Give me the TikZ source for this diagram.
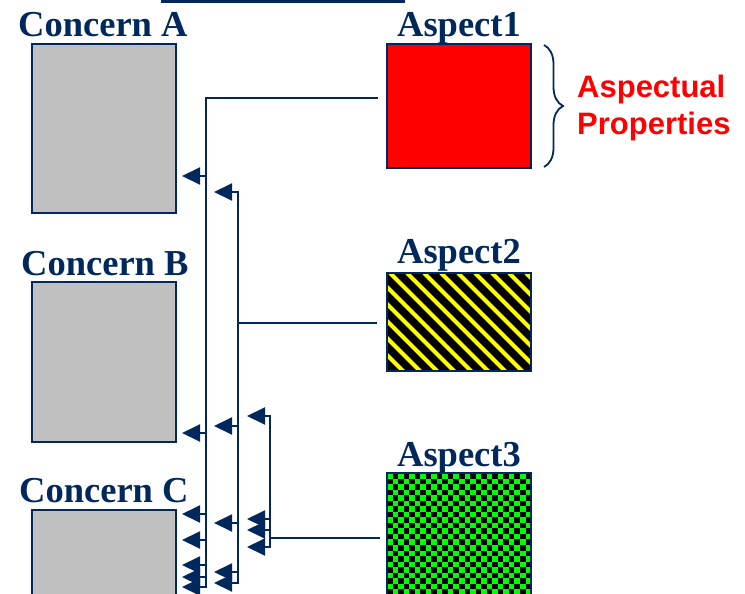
\documentclass[tikz,border=0pt]{standalone}
\usepackage{fontspec}
\setmainfont{Liberation Serif}
\newfontfamily\arialfont{Liberation Sans}
\usetikzlibrary{arrows.meta,decorations.pathreplacing}
\definecolor{navy}{RGB}{0,40,92}
\definecolor{concgray}{RGB}{192,192,192}
\definecolor{chkgreen}{RGB}{0,255,0}
\definecolor{stripey}{RGB}{255,255,0}
\tikzset{
  concbox/.style={draw=navy, line width=1.6pt, fill=concgray, anchor=north west, minimum width=144pt, inner sep=0pt, outer sep=0pt},
  aspbox/.style={draw=navy, line width=1.6pt, anchor=north west, minimum width=144pt, inner sep=0pt, outer sep=0pt},
  title/.style={font=\bfseries\fontsize{36.5}{40}\selectfont, text=navy, inner sep=0pt},
  conn/.style={draw=navy, line width=1.9pt},
  tip/.tip={Triangle[length=18pt,width=17pt]},
  arr/.style={conn, -tip},
  arrboth/.style={conn, tip-tip},
}
\begin{document}
\begin{tikzpicture}[x=1pt,y=-1pt]
\useasboundingbox (0,0) rectangle (745,594);
\clip (0,0) rectangle (745,594);
% top bar
\fill[navy] (161,0) rectangle (405,3);
% titles
\node[title, anchor=base west] (tA) at (18,37) {Concern A};
\node[title, anchor=base west] (tB) at (21,275) {Concern B};
\node[title, anchor=base west] (tC) at (19,502) {Concern C};
\node[title, anchor=base] (t1) at (459,37) {Aspect1};
\node[title, anchor=base] (t2) at (459,263) {Aspect2};
\node[title, anchor=base] (t3) at (459,466) {Aspect3};
% concern boxes
\node[concbox, minimum height=169pt] (cA) at (32,44) {};
\node[concbox, minimum height=160pt] (cB) at (32,282) {};
\node[concbox, minimum height=130pt] (cC) at (32,510) {};
% aspect 1
\node[aspbox, fill=red, minimum height=124pt] (a1) at (387,44) {};
% aspect 2 (stripes)
\node[aspbox, fill=black, minimum height=98pt] (a2) at (387,273) {};
\begin{scope}
  \clip (a2.north west) rectangle (a2.south east);
  \foreach \x in {-120,-103,...,540}
    \draw[stripey, line width=4pt] (\x,273) -- ++(115,115);
\end{scope}
\draw[navy, line width=1.6pt] (a2.north west) rectangle (a2.south east);
% aspect 3 (checks)
\node[aspbox, fill=black, minimum height=150pt] (a3) at (387,473) {};
\begin{scope}
  \clip (a3.north west) rectangle (a3.south east);
  \foreach \i in {0,...,25}{
    \foreach \j in {0,...,24}{
      \pgfmathparse{int(mod(\i+\j,2))}
      \ifnum\pgfmathresult=0
        \fill[chkgreen] (387+\i*5.54,473+\j*5.54) rectangle ++(5.54,5.54);
      \fi
    }
  }
\end{scope}
\draw[navy, line width=1.6pt] (a3.north west) rectangle (a3.south east);
% brace and label
\draw[navy, line width=1.8pt, decorate, decoration={brace, amplitude=19pt}] (544,45) -- (544,167);
\node[anchor=base west, align=left, inner sep=0pt, text=red,
      font=\arialfont\bfseries\fontsize{31}{37}\selectfont] (ap) at (577,135) {Aspectual\\Properties};
% connector from Aspect1
\coordinate (s1) at (378,98);
\coordinate (v1t) at (206,98);
\coordinate (v1b) at (206,587);
\draw[arr] (s1) -- (v1t) -- (v1b) -- ++(-24,0);
\foreach \y in {176,433,514,540,565,577}
  \draw[arr] (206,\y) -- ++(-24,0);
% connector from Aspect2
\coordinate (s2) at (377,323);
\coordinate (j2) at (238,323);
\draw[arrboth] (214,192) -- (238,192) -- (238,583) -- (214,583);
\draw[conn] (s2) -- (j2);
\foreach \y in {426,523,572}
  \draw[arr] (238,\y) -- ++(-24,0);
% connector from Aspect3
\coordinate (s3) at (380,538);
\coordinate (j3) at (270,538);
\draw[arrboth] (247,416) -- (270,416) -- (270,547) -- (247,547);
\draw[conn] (s3) -- (j3);
\foreach \y in {519,530}
  \draw[arr] (270,\y) -- ++(-23,0);
\end{tikzpicture}
\end{document}
